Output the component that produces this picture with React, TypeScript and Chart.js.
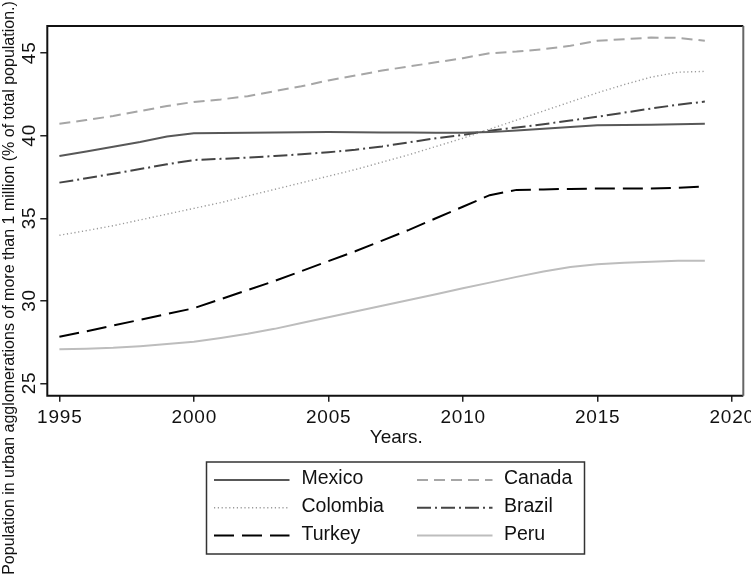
import React, { useEffect, useRef } from "react";
import { Chart, registerables } from "chart.js";

Chart.register(...registerables);

const FONT = '"Liberation Sans", Arial, Helvetica, sans-serif';

const years = [
  1995, 1996, 1997, 1998, 1999, 2000, 2001, 2002, 2003, 2004, 2005, 2006, 2007,
  2008, 2009, 2010, 2011, 2012, 2013, 2014, 2015, 2016, 2017, 2018, 2019,
];

const mexico = [
  38.78, 39.05, 39.33, 39.62, 39.95, 40.15, 40.17, 40.18, 40.2, 40.21, 40.22, 40.21, 40.2,
  40.19, 40.18, 40.18, 40.22, 40.32, 40.42, 40.53, 40.64, 40.65, 40.67, 40.7, 40.73,
];
const canada = [
  40.73, 40.95, 41.2, 41.5, 41.8, 42.05, 42.2, 42.4, 42.7, 43.0, 43.35, 43.65, 43.95,
  44.2, 44.45, 44.7, 45.0, 45.1, 45.25, 45.45, 45.75, 45.85, 45.95, 45.93, 45.76,
];
const colombia = [
  33.97, 34.25, 34.55, 34.9, 35.25, 35.6, 35.95, 36.35, 36.75, 37.15, 37.55, 37.95, 38.4,
  38.85, 39.35, 39.85, 40.4, 40.95, 41.5, 42.05, 42.6, 43.1, 43.55, 43.85, 43.9,
];
const brazil = [
  37.16, 37.42, 37.7, 37.98, 38.27, 38.53, 38.6, 38.68, 38.77, 38.88, 39.0, 39.15, 39.35,
  39.6, 39.85, 40.05, 40.3, 40.5, 40.7, 40.92, 41.15, 41.4, 41.65, 41.88, 42.07,
];
const turkey = [
  27.82, 28.15, 28.5, 28.85, 29.2, 29.55, 30.1, 30.65, 31.2, 31.8, 32.4, 33.0, 33.65,
  34.3, 35.0, 35.7, 36.4, 36.72, 36.75, 36.78, 36.8, 36.8, 36.8, 36.85, 36.92,
];
const peru = [
  27.06, 27.1, 27.15, 27.25, 27.38, 27.52, 27.75, 28.0, 28.3, 28.65, 29.0, 29.35, 29.7,
  30.05, 30.4, 30.76, 31.1, 31.45, 31.78, 32.05, 32.21, 32.3, 32.37, 32.43, 32.43,
];

const xTicks = [1995, 2000, 2005, 2010, 2015, 2020];
const yTicks = [25, 30, 35, 40, 45];

const xTitle = "Years.";
const yTitle =
  "Population in urban agglomerations of more than 1 million (% of total population.)";

// Series styling, in legend order (row by row, two columns).
const series = [
  { label: "Mexico", values: mexico, color: "#585858", dash: [] as number[], width: 2 },
  { label: "Canada", values: canada, color: "#a6a6a6", dash: [11, 6], width: 2 },
  { label: "Colombia", values: colombia, color: "#9a9a9a", dash: [1.2, 2.6], width: 1.4 },
  { label: "Brazil", values: brazil, color: "#444444", dash: [14, 4, 2, 4], width: 2 },
  { label: "Turkey", values: turkey, color: "#000000", dash: [20, 8], width: 2 },
  { label: "Peru", values: peru, color: "#bdbdbd", dash: [] as number[], width: 2 },
];

const decorations = {
  id: "decorations",
  afterDraw(chart: any) {
    const { ctx, chartArea: a, scales } = chart;
    const xs = scales.x;
    const ys = scales.y;
    ctx.save();

    // plot frame
    ctx.setLineDash([]);
    ctx.lineWidth = 2;
    ctx.strokeStyle = "#111";
    ctx.beginPath();
    ctx.moveTo(a.right, a.top);
    ctx.lineTo(a.left, a.top);
    ctx.lineTo(a.left, a.bottom);
    ctx.lineTo(a.right, a.bottom);
    ctx.stroke();
    ctx.strokeStyle = "#666";
    ctx.beginPath();
    ctx.moveTo(a.right, a.top);
    ctx.lineTo(a.right, a.bottom);
    ctx.stroke();

    ctx.fillStyle = "#111";
    ctx.font = `19px ${FONT}`;
    ctx.textBaseline = "alphabetic";
    ctx.textAlign = "center";

    // numeric tick labels use slightly wider digit spacing
    ctx.letterSpacing = "0.8px";

    // x tick labels
    xs.ticks.forEach((t: any) => {
      ctx.fillText(String(t.value), xs.getPixelForValue(t.value) + 0.4, a.bottom + 27.5);
    });

    // y tick labels, rotated
    ys.ticks.forEach((t: any) => {
      const py = ys.getPixelForValue(t.value);
      ctx.save();
      ctx.translate(a.left - 12.5, py);
      ctx.rotate(-Math.PI / 2);
      ctx.fillText(String(t.value), 0.4, 0);
      ctx.restore();
    });
    ctx.letterSpacing = "0px";

    // x title
    ctx.fillText(xTitle, (a.left + a.right) / 2 + 1, a.bottom + 47);

    // y title
    ctx.save();
    ctx.font = `16px ${FONT}`;
    ctx.textAlign = "center";
    ctx.translate(13.5, 288);
    ctx.rotate(-Math.PI / 2);
    ctx.fillText(yTitle, 0, 0);
    ctx.restore();

    // legend
    const box = { left: 206.5, top: 462, width: 378, height: 92 };
    ctx.lineWidth = 1.5;
    ctx.strokeStyle = "#333";
    ctx.setLineDash([]);
    ctx.strokeRect(box.left, box.top, box.width, box.height);

    const colSample = [214, 417];
    const colText = [301.5, 504];
    const sampleLen = 75.5;
    const baselines = [484.3, 512, 539.7];
    ctx.font = `19.5px ${FONT}`;
    ctx.textAlign = "left";
    chart.data.datasets.forEach((ds: any, i: number) => {
      const col = i % 2;
      const row = Math.floor(i / 2);
      const base = baselines[row];
      const ly = base - 4.3;
      ctx.strokeStyle = ds.borderColor;
      ctx.lineWidth = ds.borderWidth;
      ctx.setLineDash(ds.borderDash || []);
      ctx.beginPath();
      ctx.moveTo(colSample[col], ly);
      ctx.lineTo(colSample[col] + sampleLen, ly);
      ctx.stroke();
      ctx.setLineDash([]);
      ctx.fillStyle = "#111";
      ctx.fillText(ds.label, colText[col], base);
    });

    ctx.restore();
  },
};

export default function App() {
  const canvasRef = useRef<HTMLCanvasElement | null>(null);

  useEffect(() => {
    document.body.style.margin = "0";
    const canvas = canvasRef.current;
    if (!canvas) return;

    const chart = new Chart(canvas, {
      type: "line",
      data: {
        datasets: series.map((s) => ({
          label: s.label,
          data: years.map((yr, i) => ({ x: yr, y: s.values[i] })),
          borderColor: s.color,
          borderWidth: s.width,
          borderDash: s.dash,
          pointRadius: 0,
          fill: false,
          tension: 0,
        })),
      },
      options: {
        animation: false,
        responsive: false,
        devicePixelRatio: 1,
        layout: { padding: { top: 26, right: 7.7, left: 0, bottom: 0 } },
        plugins: {
          legend: { display: false },
          tooltip: { enabled: false },
          title: { display: false },
        },
        scales: {
          x: {
            type: "linear",
            min: 1994.55,
            max: 2020.43,
            afterBuildTicks: (scale: any) => {
              scale.ticks = xTicks.map((v) => ({ value: v }));
            },
            afterFit: (scale: any) => {
              scale.height = 179.3;
            },
            ticks: { display: false },
            border: { display: false },
            grid: {
              drawOnChartArea: false,
              drawTicks: true,
              tickLength: 6,
              color: "#222",
              lineWidth: 1.5,
            },
          },
          y: {
            type: "linear",
            min: 24.25,
            max: 46.65,
            afterBuildTicks: (scale: any) => {
              scale.ticks = yTicks.map((v) => ({ value: v }));
            },
            afterFit: (scale: any) => {
              scale.width = 47.3;
            },
            ticks: { display: false },
            border: { display: false },
            grid: {
              drawOnChartArea: false,
              drawTicks: true,
              tickLength: 7,
              color: "#222",
              lineWidth: 1.5,
            },
          },
        },
      },
      plugins: [decorations],
    });

    return () => chart.destroy();
  }, []);

  return <canvas ref={canvasRef} width={751} height={575} style={{ display: "block" }} />;
}
